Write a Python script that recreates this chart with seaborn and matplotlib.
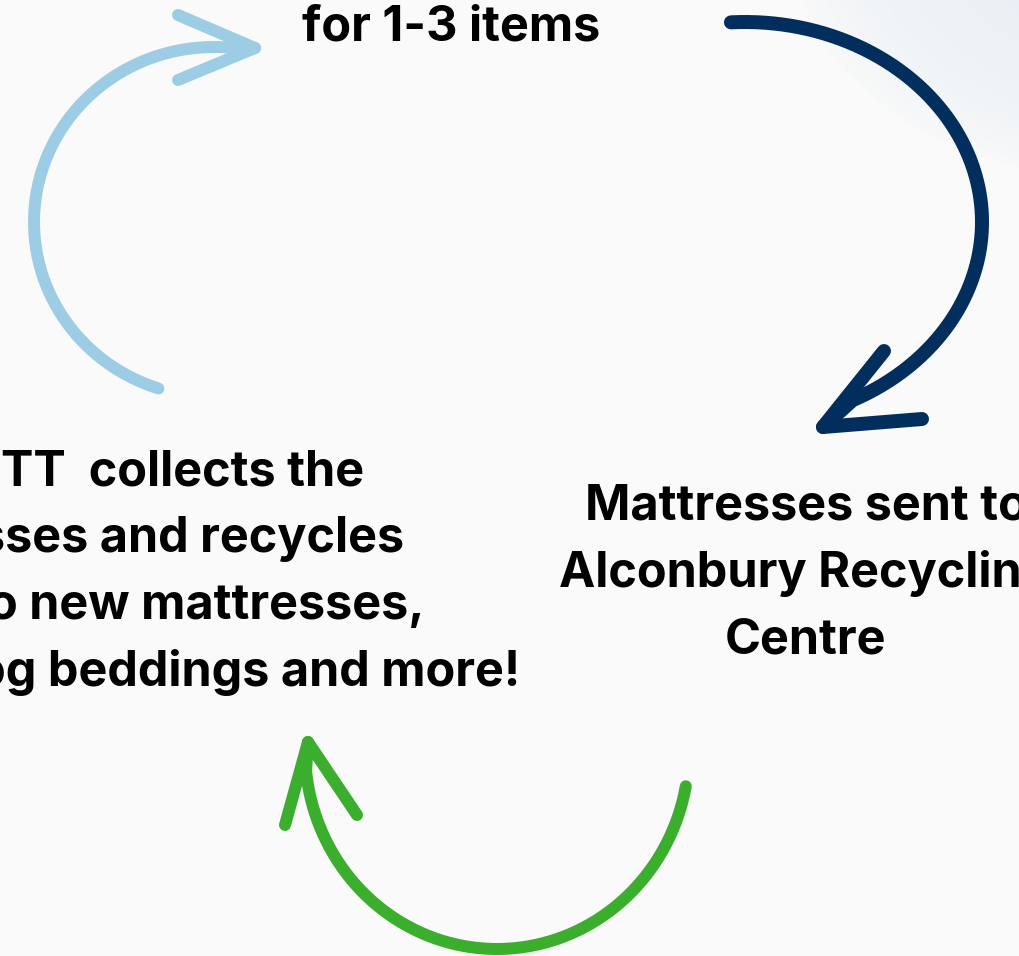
import numpy as np
import matplotlib
matplotlib.use("Agg")
import matplotlib.pyplot as plt
import seaborn as sns

sns.set_theme(style="white")
plt.rcParams["font.family"] = ["Inter", "DejaVu Sans"]

# ---- content -------------------------------------------------------------
top_label = "for 1-3 items"
left_lines = ["TT  collects the", "sses and recycles", "o new mattresses,", "og beddings and more!"]
right_lines = ["Mattresses sent to", "Alconbury Recycling", "Centre"]

# ---- cycle arrows (elliptic arcs + chevron heads) ------------------------
arc_colors = ["#9dcde5", "#022e5e", "#3bae2e"]
arc_center_x = [214, 745, 497]
arc_center_y = [222, 222, 750]
arc_radius_x = [180, 237, 192]
arc_radius_y = [175, 200, 199]
arc_start_deg = [252, 93.4, -10.5]
arc_end_deg = [81.7, -63, -174]
arc_width_px = [12, 14, 12]
head_tip_x = [255, 823, 308]
head_tip_y = [48, 427, 742]
head_arm1_x = [178, 884, 285]
head_arm1_y = [15, 351, 825]
head_arm2_x = [178, 922, 357]
head_arm2_y = [80, 419, 815]

W, H = 1019, 956
BG = "#fafafa"

fig = plt.figure(figsize=(W / 100, H / 100), dpi=100, facecolor=BG)
ax = fig.add_axes([0, 0, 1, 1])
ax.set_xlim(0, W)
ax.set_ylim(H, 0)
ax.axis("off")

# soft bluish tint in the top-right corner
gx, gy = np.meshgrid(np.arange(W), np.arange(H))
d = np.sqrt(((gx - 1120) / 330.0) ** 2 + ((gy + 60) / 240.0) ** 2)
alpha = np.clip(1 - d, 0, 1) ** 0.6
tint = np.zeros((H, W, 4))
tint[..., :3] = np.array([0xe4, 0xec, 0xf2]) / 255.0
tint[..., 3] = alpha
ax.imshow(np.dstack([np.full((H, W, 3), 0xfa / 255.0), np.ones((H, W, 1))]),
          extent=(0, W, H, 0), zorder=0)
ax.imshow(tint, extent=(0, W, H, 0), zorder=0.5)

for i, col in enumerate(arc_colors):
    t = np.radians(np.linspace(arc_start_deg[i], arc_end_deg[i], 300))
    xs = arc_center_x[i] + arc_radius_x[i] * np.cos(t)
    ys = arc_center_y[i] - arc_radius_y[i] * np.sin(t)
    xs = np.append(xs, head_tip_x[i])
    ys = np.append(ys, head_tip_y[i])
    lw = arc_width_px[i] * 0.72
    sns.lineplot(x=xs, y=ys, sort=False, estimator=None, color=col, linewidth=lw,
                 solid_capstyle="round", solid_joinstyle="round", ax=ax, zorder=2)
    sns.lineplot(x=[head_arm1_x[i], head_tip_x[i], head_arm2_x[i]],
                 y=[head_arm1_y[i], head_tip_y[i], head_arm2_y[i]],
                 sort=False, estimator=None, color=col, linewidth=lw,
                 solid_capstyle="round", solid_joinstyle="round", ax=ax, zorder=2)

ax.set_xlim(0, W)
ax.set_ylim(H, 0)

fs = 35
ax.text(451, 40, top_label, ha="center", va="baseline", fontsize=fs,
        fontweight="bold", color="#000000", zorder=3)

left_ends = [364, 404, 425, 520]
left_base = [485, 552, 619, 686]
for s, xe, yb in zip(left_lines, left_ends, left_base):
    ax.text(xe, yb, s, ha="right", va="baseline", fontsize=fs,
            fontweight="bold", color="#000000", zorder=3)

right_base = [519, 587, 654]
for s, yb in zip(right_lines, right_base):
    ax.text(806, yb, s, ha="center", va="baseline", fontsize=fs,
            fontweight="bold", color="#000000", zorder=3)

fig.savefig("out.png", dpi=100, facecolor=BG)
